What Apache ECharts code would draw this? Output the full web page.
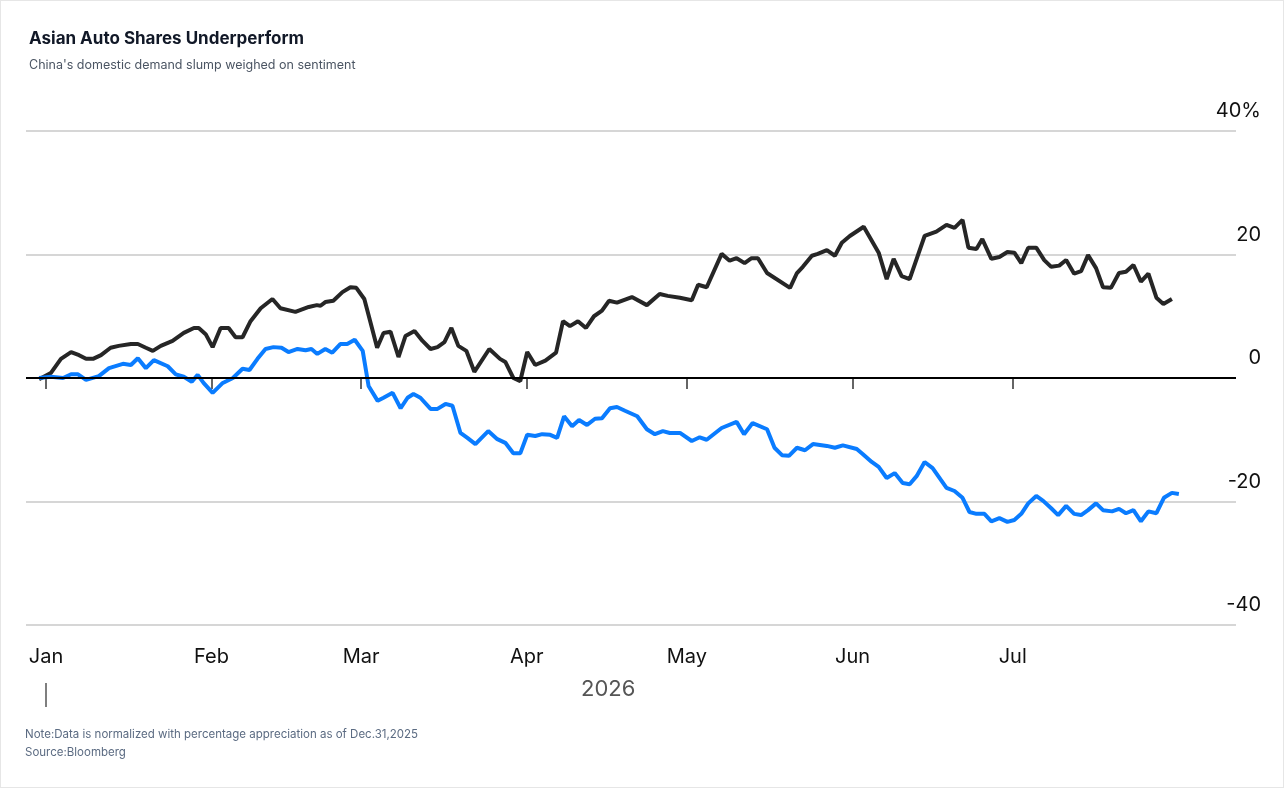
<!DOCTYPE html>
<html>
<head>
<meta charset="utf-8">
<script src="https://cdn.jsdelivr.net/npm/echarts@6/dist/echarts.min.js"></script>
<style>
  html, body { margin: 0; padding: 0; background: #fff; }
  #chart { width: 1282px; height: 786px; border: 1px solid #e6e6e6; }
</style>
</head>
<body>
<div id="chart"></div>
<script>
// month labels for the x axis, and the day of 2026 each one starts on
const months = ['Jan', 'Feb', 'Mar', 'Apr', 'May', 'Jun', 'Jul'];
const monthStartDays = [0, 31, 59, 90, 120, 151, 181];
const yTicks = [-40, -20, 0, 20, 40];

// [days since Jan 1 2026, % change]
const chinaAutos = [
  [-1.3, -0.2], [0.9, 0.8], [2.8, 3.1], [4.7, 4.2], [6.2, 3.7], [7.5, 3.1], [8.8, 3.1], [10.3, 3.7],
  [12.1, 4.9], [13.6, 5.2], [15.9, 5.5], [17.2, 5.5], [18.7, 4.9], [20, 4.4], [21.5, 5.2], [23.7, 6.0],
  [25.8, 7.3], [27.7, 8.1], [28.6, 8.1], [29.9, 7.1], [31.2, 5.0], [32.7, 8.1], [34.2, 8.1], [35.5, 6.6],
  [36.8, 6.6], [38.3, 9.2], [40.2, 11.3], [42.4, 12.8], [43.9, 11.3], [46.7, 10.7], [49.2, 11.5], [50.7, 11.8],
  [51.4, 11.7], [52.3, 12.3], [53.8, 12.5], [55.5, 13.9], [57, 14.7], [58.1, 14.6], [59.6, 12.8], [60.7, 9.2],
  [62, 4.9], [63.2, 7.3], [64.5, 7.5], [66, 3.4], [67.3, 6.8], [69, 7.6], [70.5, 6.0], [72, 4.7],
  [73.3, 5.0], [74.6, 5.8], [75.9, 8.1], [77.2, 5.2], [78.7, 4.4], [80.2, 1.0], [83, 4.7], [85, 3.1],
  [86, 2.6], [87.5, 0], [88.8, -0.5], [90.1, 4.2], [91.6, 2.1], [93.5, 2.8], [95.5, 4.1], [96.8, 9.2],
  [98.1, 8.4], [99.6, 9.2], [101.1, 8.1], [102.6, 10.0], [104.1, 10.9], [105.4, 12.5], [106.9, 12.2], [109.7, 13.1],
  [112.5, 11.8], [114.9, 13.6], [116.4, 13.3], [118.7, 13.0], [120.9, 12.6], [122.1, 15.1], [123.7, 14.7], [126.5, 20.1],
  [128, 19.0], [129.3, 19.4], [130.8, 18.6], [132.1, 19.4], [133.3, 19.4], [135, 17.0], [139.3, 14.6], [140.6, 17.0],
  [141.7, 18.0], [143.4, 19.8], [144.5, 20.1], [146.2, 20.7], [147.7, 19.8], [149, 21.9], [150.5, 23.0], [153.1, 24.5],
  [155.9, 20.3], [157.4, 16.0], [158.7, 19.3], [160.2, 16.5], [161.7, 16.0], [164.5, 23.0], [166.7, 23.7], [168.6, 24.8],
  [170.1, 24.3], [171.6, 25.6], [172.7, 21.1], [174.2, 20.9], [175.3, 22.5], [177, 19.3], [178.5, 19.6], [180, 20.4],
  [181.3, 20.3], [182.6, 18.6], [183.9, 21.1], [185.4, 21.1], [186.9, 19.1], [188.2, 18.0], [189.7, 18.2], [191, 19.1],
  [192.5, 16.9], [193.8, 17.3], [195.1, 19.9], [196.6, 17.8], [197.9, 14.7], [199.4, 14.6], [200.9, 17.0], [202.2, 17.2],
  [203.6, 18.3], [205, 15.6], [206.4, 16.9], [207.9, 13.0], [209.2, 12.0], [210.8, 12.8]
];

const asiaAutos = [
  [-1.3, 0], [0.9, 0.2], [3.2, 0], [4.7, 0.6], [6.0, 0.6], [7.5, -0.3], [9.9, 0.3], [11.8, 1.6],
  [14.4, 2.3], [15.9, 2.1], [17.2, 3.2], [18.7, 1.6], [20.2, 2.9], [22.8, 1.9], [24.3, 0.6], [25.8, 0.2],
  [27.3, -0.6], [28.4, 0.5], [29.5, -0.8], [31.2, -2.4], [33.1, -0.8], [35.0, 0], [36.8, 1.5], [38.1, 1.3],
  [39.6, 3.1], [41.1, 4.7], [42.6, 5.0], [44.1, 4.9], [45.4, 4.2], [47.1, 4.7], [48.6, 4.5], [49.7, 4.7],
  [50.8, 3.9], [52.3, 4.7], [53.6, 4.1], [55.1, 5.5], [56.4, 5.5], [57.8, 6.2], [59.3, 4.4], [60.4, -1.3],
  [62.1, -3.7], [63.2, -3.2], [64.9, -2.4], [66.4, -4.9], [67.7, -3.2], [68.8, -2.6], [70.1, -3.2], [72.0, -5.0],
  [73.3, -5.0], [74.8, -4.2], [76.1, -4.5], [77.6, -8.9], [78.9, -9.7], [80.4, -10.7], [82.8, -8.6], [84.5, -9.9],
  [86.0, -10.5], [87.5, -12.2], [88.8, -12.2], [90.1, -9.2], [91.6, -9.4], [92.9, -9.1], [94.4, -9.2], [95.7, -9.7],
  [97.0, -6.2], [98.5, -7.8], [99.8, -6.8], [101.3, -7.6], [102.8, -6.6], [104.1, -6.5], [105.6, -4.9], [106.9, -4.7],
  [108.4, -5.3], [110.7, -6.2], [112.5, -8.3], [114.0, -9.1], [115.5, -8.6], [116.8, -8.9], [118.7, -8.9], [120.9, -10.2],
  [122.4, -9.6], [123.7, -10.0], [126.5, -8.1], [129.3, -7.1], [130.7, -9.1], [132.3, -7.3], [135.0, -8.3], [136.4, -11.3],
  [137.8, -12.5], [139.1, -12.6], [140.6, -11.3], [142.1, -11.7], [143.6, -10.7], [146.2, -11.0], [147.7, -11.3], [149.2, -10.9],
  [151.8, -11.5], [152.9, -12.3], [154.6, -13.6], [155.9, -14.4], [157.4, -16.2], [158.9, -15.4], [160.4, -17.0], [161.7, -17.2],
  [163.0, -15.9], [164.5, -13.6], [166.0, -14.6], [168.6, -17.8], [170.1, -18.3], [171.6, -19.4], [172.9, -21.7], [174.2, -22.0],
  [175.7, -22.0], [177.0, -23.2], [178.5, -22.7], [180.0, -23.3], [181.3, -23.0], [182.6, -22.0], [183.9, -20.3], [185.4, -19.1],
  [186.7, -19.9], [188.2, -21.1], [189.5, -22.2], [191.0, -20.7], [192.5, -22.0], [193.8, -22.2], [195.1, -21.4], [196.6, -20.3],
  [197.9, -21.4], [199.6, -21.6], [200.9, -21.2], [202.2, -21.9], [203.6, -21.4], [205.0, -23.2], [206.4, -21.6], [207.9, -21.9],
  [209.3, -19.4], [210.8, -18.6], [212.1, -18.8]
];

var myChart = echarts.init(document.getElementById('chart'));
window.onresize = function () { myChart.resize(); };

var option = {
  animation: false,
  title: {
    text: 'Asian Auto Shares Underperform',
    subtext: "China's domestic demand slump weighed on sentiment",
    left: 23, top: 24,
    textStyle: { fontFamily: 'Inter', fontSize: 17, fontWeight: 'bold', color: '#111827' },
    subtextStyle: { fontFamily: 'Inter', fontSize: 12.5, color: '#4b5563' },
    itemGap: 12
  },
  grid: { left: 25, right: 47, top: 130, bottom: 162 },
  xAxis: {
    type: 'value',
    min: -3.74,
    max: 222.8,
    axisLine: { show: false },
    splitLine: { show: false },
    axisTick: { show: true, customValues: monthStartDays, length: 11, lineStyle: { color: '#333', width: 1.5 } },
    axisLabel: {
      customValues: monthStartDays,
      margin: 22,
      fontFamily: 'Inter', fontSize: 20, color: '#111',
      formatter: function (v) { return months[monthStartDays.indexOf(v)]; }
    }
  },
  yAxis: {
    type: 'value',
    position: 'right',
    min: -40, max: 40, interval: 20,
    axisLine: { show: false },
    axisTick: { show: false },
    splitLine: { lineStyle: { color: '#c8c8c8', width: 1.5 } },
    axisLabel: {
      margin: 25,
      align: 'right',
      verticalAlign: 'bottom',
      padding: [0, 0, 10, 0],
      fontFamily: 'Inter', fontSize: 20, color: '#111',
      formatter: function (v) { return v === yTicks[yTicks.length - 1] ? v + '%' : String(v); }
    }
  },
  series: [
    {
      name: 'China autos',
      type: 'line',
      data: chinaAutos,
      showSymbol: false,
      lineStyle: { color: '#262626', width: 4 },
      z: 3,
      markLine: {
        silent: true,
        symbol: 'none',
        label: { show: false },
        lineStyle: { color: '#000', width: 2, type: 'solid' },
        data: [{ yAxis: 0 }]
      }
    },
    {
      name: 'Asia autos',
      type: 'line',
      data: asiaAutos,
      showSymbol: false,
      lineStyle: { color: '#0a7cff', width: 4 },
      z: 4
    }
  ],
  graphic: [
    { type: 'line', shape: { x1: 45, y1: 682, x2: 45, y2: 706 }, style: { stroke: '#555', lineWidth: 1.5 } },
    { type: 'text', left: 580, top: 677, style: { text: '2026', font: '22px Inter', fill: '#555' } },
    { type: 'text', left: 24, top: 728, style: { text: 'Note:Data is normalized with percentage appreciation as of Dec.31,2025', font: '11.5px Inter', fill: '#5b6b82' } },
    { type: 'text', left: 24, top: 746, style: { text: 'Source:Bloomberg', font: '11.5px Inter', fill: '#5b6b82' } }
  ]
};
myChart.setOption(option);
</script>
</body>
</html>
